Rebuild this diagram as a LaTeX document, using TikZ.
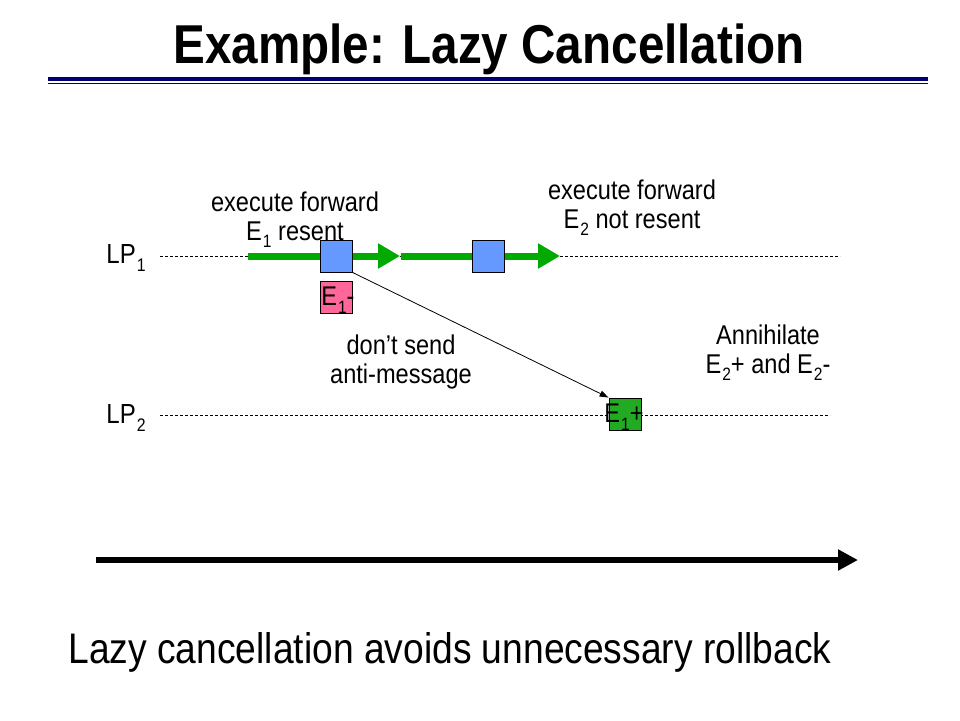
\documentclass[tikz,border=0pt]{standalone}
\usepackage{graphicx}
\usepackage{fontspec}
\setmainfont{Liberation Sans}
\usetikzlibrary{arrows.meta}
\newcommand{\vstr}[1]{\scalebox{1}[1.15]{#1}}
\newcommand{\lsub}[1]{\kern1pt\raisebox{-0.28em}{\scalebox{0.66}{#1}}}
\definecolor{navy}{RGB}{0,0,110}
\definecolor{evblue}{RGB}{102,153,255}
\definecolor{evpink}{RGB}{255,102,153}
\definecolor{evgreen}{RGB}{34,170,34}
\definecolor{fwgreen}{RGB}{0,170,0}
\tikzset{
  lbl/.style={font=\fontsize{23.6}{27.5}\selectfont, align=center, inner sep=0pt},
  lplbl/.style={font=\fontsize{24}{28}\selectfont, inner sep=0pt},
  evbox/.style={draw=black, line width=0.8pt, minimum size=32pt, inner sep=0pt, fill=#1},
  evtext/.style={font=\fontsize{23.5}{27}\selectfont, inner sep=0pt},
  timeline/.style={dash pattern=on 3pt off 2pt, line width=0.9pt},
  fwd/.style={fwgreen, line width=7pt, -{Triangle[length=22pt,width=24pt]}},
  msg/.style={line width=0.8pt, -{Triangle[length=9pt,width=6pt]}},
}
\begin{document}
\begin{tikzpicture}[x=1pt,y=-1pt]
\useasboundingbox (0,0) rectangle (960,720);
% title
\node[font=\bfseries\fontsize{47.6}{52}\selectfont, inner sep=0pt] (title) at (489,49) {\vstr{Example: Lazy Cancellation}};
\coordinate (rl) at (48,79); \coordinate (rr) at (928,79);
\coordinate (rl2) at (48,83); \coordinate (rr2) at (928,83);
\draw[navy, line width=3.2pt] (rl) -- (rr);
\draw[navy, line width=1pt] (rl2) -- (rr2);
% LP labels
\node[lplbl] (lp1) at (126,258) {\vstr{LP\lsub{1}}};
\node[lplbl] (lp2) at (126,418) {\vstr{LP\lsub{2}}};
\coordinate (l1s) at (160,256); \coordinate (l1e) at (840,256);
\coordinate (l2s) at (160,415); \coordinate (l2e) at (830,415);
\draw[timeline] (l1s) -- (l1e);
\draw[timeline] (l2s) -- (l2e);
% forward arrows
\coordinate (f1s) at (248,256); \coordinate (f1e) at (400,256);
\coordinate (f2s) at (401,256); \coordinate (f2e) at (560,256);
\draw[fwd] (f1s) -- (f1e);
\draw[fwd] (f2s) -- (f2e);
% events
\node[evbox=evblue] (b1) at (336,256) {};
\node[evbox=evblue] (b2) at (488,256) {};
\node[evbox=evpink] (em) at (336,297) {};
\node[evtext] (emt) at (338,300) {\vstr{E\lsub{1}-}};
\node[evbox=evgreen] (ep) at (625,414) {};
\node[evtext] (ept) at (624,417) {\vstr{E\lsub{1}+}};
% message
\draw[msg] (b1.south east) -- (ep.north west);
% big time arrow
\coordinate (ts) at (96,560); \coordinate (te) at (858,560);
\draw[line width=6pt, -{Triangle[length=20pt,width=20pt]}] (ts) -- (te);
% labels
\node[lbl] (t1) at (295,220) {\vstr{execute forward}\\[1pt]\vstr{E\lsub{1} resent}};
\node[lbl] (t2) at (632,208) {\vstr{execute forward}\\[1pt]\vstr{E\lsub{2} not resent}};
\node[lbl] (t3) at (401,362) {\vstr{don’t send}\\[2pt]\vstr{anti-message}};
\node[lbl] (t4) at (768,353) {\vstr{Annihilate}\\[1pt]\vstr{E\lsub{2}+ and E\lsub{2}-}};
\node[font=\fontsize{37.2}{40}\selectfont, inner sep=0pt] (bottom) at (450,652) {\vstr{Lazy cancellation avoids unnecessary rollback}};
\end{tikzpicture}
\end{document}
